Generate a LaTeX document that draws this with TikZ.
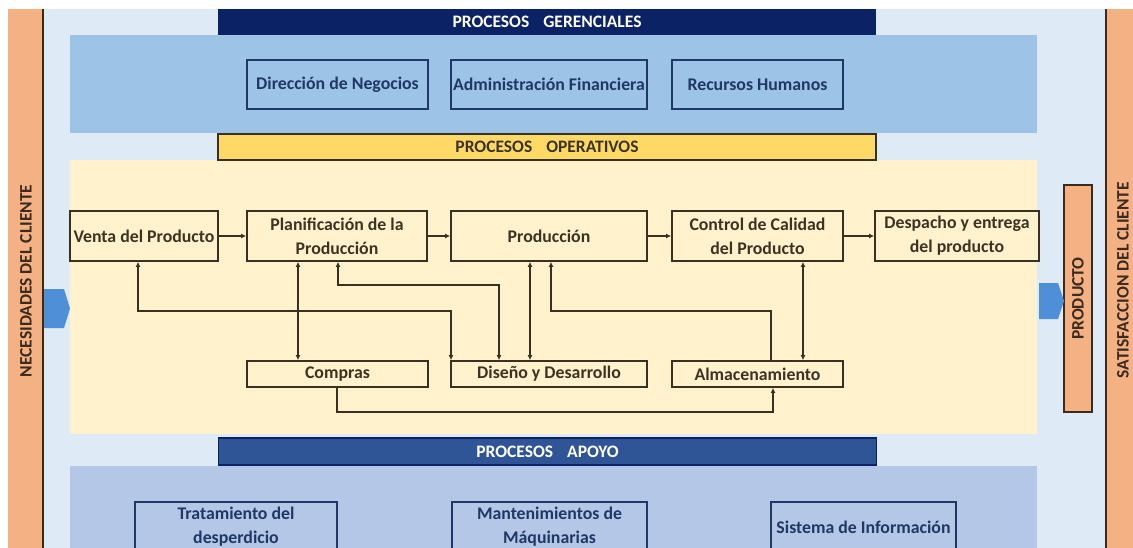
\documentclass[tikz,border=0pt]{standalone}
\usepackage{fontspec}
\setmainfont{Carlito}
\usetikzlibrary{arrows.meta}

\definecolor{sideorange}{HTML}{F4B183}
\definecolor{sideline}{HTML}{3B2A1E}
\definecolor{pagebg}{HTML}{DEEBF7}
\definecolor{navybar}{HTML}{0B2265}
\definecolor{gband}{HTML}{9DC3E6}
\definecolor{gline}{HTML}{1F3864}
\definecolor{yellowbar}{HTML}{FFD966}
\definecolor{cream}{HTML}{FFF2CC}
\definecolor{opline}{HTML}{3A3022}
\definecolor{optext}{HTML}{3D3323}
\definecolor{apoyobar}{HTML}{2F5597}
\definecolor{aband}{HTML}{B4C7E7}
\definecolor{chevron}{HTML}{4F8FD8}

\newcommand{\boxfont}{\bfseries\fontsize{17.8}{24}\selectfont}
\newcommand{\barfont}{\bfseries\fontsize{17.5}{18}\selectfont}
\newcommand{\sidefont}{\bfseries\fontsize{17.5}{18}\selectfont}

\begin{document}
\begin{tikzpicture}[x=1pt,y=-1pt,
  opbox/.style={draw=opline, line width=1.8pt, fill=cream, text=optext,
    inner sep=0pt, align=center, font=\boxfont},
  gbox/.style={draw=gline, line width=1.8pt, fill=gband, text=gline,
    inner sep=0pt, align=center, font=\boxfont},
  abox/.style={draw=gline, line width=1.8pt, fill=aband, text=gline,
    inner sep=0pt, align=center, font=\boxfont},
  titlebar/.style={inner sep=0pt, minimum width=658pt, minimum height=26pt,
    font=\barfont},
  link/.style={draw=opline, line width=1.2pt},
  tip/.style={-{Latex[length=5pt,width=5pt]}},
  twotips/.style={{Latex[length=5pt,width=5pt]}-{Latex[length=5pt,width=5pt]}},
]
\useasboundingbox (0,0) rectangle (1133,547);
\clip (0,0) rectangle (1133,547);

% page background and side bands
\fill[pagebg] (44,9) rectangle (1106,560);
\fill[sideorange] (8,9) rectangle (43,560);
\draw[sideline, line width=1.6pt] (43,9) -- (43,560);
\fill[sideorange] (1106,9) rectangle (1140,560);
\draw[sideline, line width=1.6pt] (1106,9) -- (1106,560);

% process bands
\fill[gband] (70,35) rectangle (1037,133);
\fill[cream] (70,160) rectangle (1037,434);
\fill[aband] (70,466) rectangle (1037,560);

% band titles
\node[titlebar, fill=navybar, text=white] (tger) at (547,22)
  {PROCESOS\hspace{0.8em}GERENCIALES};
\node[titlebar, fill=yellowbar, draw=opline, line width=1.5pt, text=optext] (top) at (547,147)
  {PROCESOS\hspace{0.8em}OPERATIVOS};
\node[titlebar, fill=apoyobar, draw=navybar, line width=1.5pt, text=white,
  minimum height=27pt] (tapo) at (547.5,451.5)
  {PROCESOS\hspace{0.8em}APOYO};

% management processes
\node[gbox, minimum width=181pt, minimum height=49pt] (dir) at (337.5,84.5) {Dirección de Negocios};
\node[gbox, minimum width=196pt, minimum height=49pt] (adm) at (549,84.5) {Administración Financiera};
\node[gbox, minimum width=171pt, minimum height=49pt] (rrhh) at (757.5,84.5) {Recursos Humanos};

% operational processes
\node[opbox, minimum width=148pt, minimum height=50pt] (venta) at (144,236) {Venta del Producto};
\node[opbox, minimum width=180pt, minimum height=50pt] (planif) at (337,236) {Planificación de la\\Producción};
\node[opbox, minimum width=196pt, minimum height=50pt] (prod) at (549,236) {Producción};
\node[opbox, minimum width=171pt, minimum height=50pt] (control) at (757.5,236) {Control de Calidad\\del Producto};
\node[opbox, minimum width=164pt, minimum height=50pt] (despacho) at (957,236) {Despacho y entrega\\del producto};
\node[opbox, minimum width=181pt, minimum height=26pt] (compras) at (337.5,374) {Compras};
\node[opbox, minimum width=196pt, minimum height=26pt] (diseno) at (549,374) {Diseño y Desarrollo};
\node[opbox, minimum width=171pt, minimum height=26pt] (almac) at (757.5,374) {Almacenamiento};

% support processes
\node[abox, minimum width=202pt, minimum height=50pt] (trat) at (236,527) {Tratamiento del\\desperdicio};
\node[abox, minimum width=195pt, minimum height=50pt] (mant) at (549.5,527) {Mantenimientos de\\Máquinarias};
\node[abox, minimum width=185pt, minimum height=50pt] (sist) at (863.5,527) {Sistema de Información};

% product box and side labels
\node[draw=sideline, line width=1.6pt, fill=sideorange, inner sep=0pt,
  minimum width=28pt, minimum height=227pt] (producto) at (1078,298.5) {};
\node[rotate=90, text=sideline, font=\sidefont] (lprod) at (producto.center) {PRODUCTO};
\node[rotate=90, text=sideline, font=\sidefont] (lnec) at (26,281) {NECESIDADES DEL CLIENTE};
\node[rotate=90, text=sideline, font=\sidefont] (lsat) at (1123,280) {SATISFACCION DEL CLIENTE};

% input / output chevrons
\fill[chevron] (44,289) -- (64,289) -- (70,308.5) -- (64,328) -- (44,328) -- cycle;
\fill[chevron] (1039,283) -- (1058,283) -- (1064,301) -- (1058,319) -- (1039,319) -- cycle;

% main flow
\draw[link, tip] (venta) -- (planif);
\draw[link, tip] (planif) -- (prod);
\draw[link, tip] (prod) -- (control);
\draw[link, tip] (control) -- (despacho);

% turning points of the feedback lines
\coordinate (c1) at (138,311);
\coordinate (c2) at (451,311);
\coordinate (c3) at (338,285);
\coordinate (c4) at (499,285);
\coordinate (c5) at (551,311);
\coordinate (c6) at (771,311);
\coordinate (c7) at (337,412);
\coordinate (c8) at (773,412);
\coordinate (x1) at (298,0);
\coordinate (x2) at (530,0);
\coordinate (x3) at (803,0);

% support links between operations
\draw[link, twotips] (venta.south -| c1) -- (c1) -- (c2) -- (diseno.north -| c2);
\draw[link, twotips] (planif.south -| c3) -- (c3) -- (c4) -- (diseno.north -| c4);
\draw[link, twotips] (planif.south -| x1) -- (compras.north -| x1);
\draw[link, twotips] (prod.south -| x2) -- (diseno.north -| x2);
\draw[link, tip] (almac.north -| c6) -- (c6) -- (c5) -- (prod.south -| c5);
\draw[link, twotips] (control.south -| x3) -- (almac.north -| x3);
\draw[link, tip] (compras.south -| c7) -- (c7) -- (c8) -- (almac.south -| c8);
\end{tikzpicture}
\end{document}
